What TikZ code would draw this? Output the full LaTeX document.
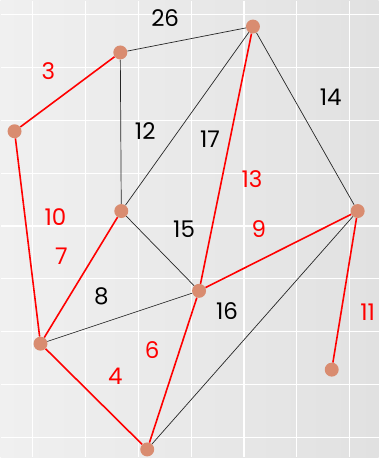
\documentclass[tikz,border=0pt]{standalone}
\usepackage{fontspec}
\setmainfont{Poppins}
\usepackage{xcolor}
\usetikzlibrary{positioning,backgrounds}
\definecolor{vertc}{RGB}{217,140,112}
\definecolor{bgleft}{RGB}{240,240,240}
\definecolor{bgright}{RGB}{225,225,225}

\begin{document}
\begin{tikzpicture}[x=1pt, y=-1pt,
  vert/.style={circle, fill=vertc, minimum size=14pt, inner sep=0pt},
  tree/.style={red, line width=1.6pt},
  edge/.style={black!85, line width=0.7pt},
  wt/.style={font=\fontsize{23}{23}\selectfont, inner sep=0pt},
  wtred/.style={wt, text=red}
]
% Vertices
\node[vert] (a) at (120,52) {};
\node[vert] (b) at (253,26) {};
\node[vert] (c) at (14,131) {};
\node[vert] (d) at (121,211) {};
\node[vert] (e) at (358,211) {};
\node[vert] (f) at (199,291) {};
\node[vert] (g) at (40,344) {};
\node[vert] (h) at (147,450) {};
\node[vert] (i) at (332,370) {};

% Weights
\node[wt] (w26) at (165,18) {26};
\node[wtred] (w3) at (48,71) {3};
\node[wt] (w12) at (145,131) {12};
\node[wt] (w17) at (210,139) {17};
\node[wtred] (w13) at (252,179) {13};
\node[wt] (w14) at (331,97) {14};
\node[wtred] (w10) at (55,217) {10};
\node[wtred] (w7) at (61,256) {7};
\node[wt] (w15) at (184,229) {15};
\node[wtred] (w9) at (259,229) {9};
\node[wt] (w8) at (101,296) {8};
\node[wt] (w16) at (227,311) {16};
\node[wtred] (w6) at (152,350) {6};
\node[wtred] (w4) at (115,377) {4};
\node[wtred] (w11) at (368,312) {11};

\begin{pgfonlayer}{background}
% Backdrop and grid
\shade[left color=bgleft, right color=bgright] (0,0) rectangle (379,458);
\foreach \x in {32,85,...,351}
  \draw[white, line width=1.2pt] (\x,0) -- (\x,458);
\foreach \y in {14,67,...,440}
  \draw[white, line width=1.2pt] (0,\y) -- (379,\y);

% Edges
\draw[edge] (a) -- (b);
\draw[edge] (a) -- (d);
\draw[edge] (b) -- (d);
\draw[edge] (b) -- (e);
\draw[edge] (d) -- (f);
\draw[edge] (g) -- (f);
\draw[edge] (h) -- (e);
\draw[tree] (a) -- (c);
\draw[tree] (c) -- (g);
\draw[tree] (d) -- (g);
\draw[tree] (b) -- (f);
\draw[tree] (f) -- (e);
\draw[tree] (f) -- (h);
\draw[tree] (g) -- (h);
\draw[tree] (e) -- (i);
\end{pgfonlayer}
\end{tikzpicture}
\end{document}
